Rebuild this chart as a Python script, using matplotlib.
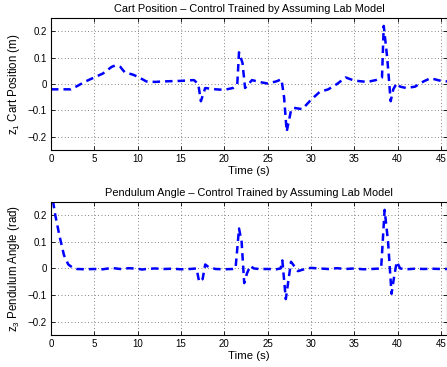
import matplotlib
matplotlib.use("Agg")
import matplotlib.pyplot as plt

plt.rcParams['font.family'] = ['Liberation Sans', 'DejaVu Sans']
plt.rcParams['mathtext.fontset'] = 'custom'
plt.rcParams['mathtext.rm'] = 'Liberation Sans'
plt.rcParams['mathtext.it'] = 'Liberation Sans'

# cart position z1 (m)
t_cart = [0, 1, 2.3, 3, 4, 5, 6, 7, 7.4, 8, 8.5, 9.5, 10, 11, 12, 13, 15, 16.5, 17.0,
          17.3, 17.8, 18.5, 19, 20, 21, 21.5, 21.7, 22.1, 22.4, 22.8, 23.2, 24, 25,
          26, 26.6, 26.9, 27.2, 27.7, 28, 29, 30, 31, 32, 33, 34, 35, 36.5, 37.5,
          38.2, 38.4, 38.8, 39.2, 39.5, 39.9, 40.3, 41, 42, 43, 43.8, 45, 45.7]
z_cart = [-0.02, -0.02, -0.02, -0.008, 0.01, 0.025, 0.04, 0.065, 0.07, 0.065, 0.045,
          0.035, 0.028, 0.01, 0.008, 0.01, 0.012, 0.015, 0.0,
          -0.065, -0.015, -0.018, -0.02, -0.022, -0.015, 0.0, 0.12, 0.08, -0.015, 0.0,
          0.015, 0.008, 0.002, 0.01, 0.018, -0.05, -0.18, -0.1, -0.09, -0.095, -0.06,
          -0.03, -0.02, 0.0, 0.025, 0.013, 0.008, 0.015,
          0.025, 0.22, 0.1, -0.065, -0.02, 0.003, -0.01, -0.015, -0.01, 0.01, 0.022,
          0.012, 0.01]

# pendulum angle z3 (rad)
t_pend = [0, 0.5, 1, 1.5, 2, 2.5, 3, 4, 5, 6, 7, 8, 9, 10, 10.5, 11, 12, 13, 14, 15,
          16, 16.8, 17.1, 17.5, 17.8, 18.2, 19, 20, 21, 21.3, 21.7, 22.0, 22.3, 22.6,
          23.0, 23.4, 24, 25, 26, 26.5, 26.7, 27.1, 27.7, 28.5, 29.5, 30, 31, 32, 33,
          34, 35, 36, 37, 38.1, 38.5, 38.9, 39.3, 39.6, 39.9, 40.3, 41, 42, 43, 44,
          45, 45.7]
z_pend = [0.3, 0.2, 0.12, 0.05, 0.015, 0.003, -0.002, -0.003, -0.002, -0.003, 0.002,
          -0.002, 0.001, -0.001, -0.004, -0.002, 0.0, -0.002, -0.001, -0.003,
          -0.002, 0.0, -0.05, -0.04, 0.015, 0.005, -0.002, -0.003, -0.002, 0.0, 0.15,
          0.1, -0.055, -0.02, 0.01, 0.0, -0.002, -0.002, -0.003, 0.0, 0.03, -0.115,
          0.025, -0.01, 0.0, 0.002, 0.0, -0.002, 0.001, -0.002, 0.0, -0.003, -0.002,
          0.0, 0.22, 0.1, -0.095, -0.03, 0.025, 0.0, -0.003, -0.001, -0.002, -0.001,
          -0.002, -0.002]

xticks = [0, 5, 10, 15, 20, 25, 30, 35, 40, 45]
yticks = [-0.2, -0.1, 0, 0.1, 0.2]
ytick_labels = ["\u22120.2", "\u22120.1", "0", "0.1", "0.2"]

fig = plt.figure(figsize=(4.47, 3.67), dpi=100)
ax1 = fig.add_axes([0.114, 0.591, 0.886, 0.360])
ax2 = fig.add_axes([0.114, 0.087, 0.886, 0.363])

panels = [
    (ax1, t_cart, z_cart, "Cart Position \u2013 Control Trained by Assuming Lab Model",
     r"z$_1$ Cart Position (m)"),
    (ax2, t_pend, z_pend, "Pendulum Angle \u2013 Control Trained by Assuming Lab Model",
     r"z$_3$ Pendulum Angle (rad)"),
]

for ax, t, z, title, ylabel in panels:
    ax.plot(t, z, color="blue", linestyle=(0, (3, 2)), linewidth=1.8)
    ax.set_xlim(0, 45.7)
    ax.set_ylim(-0.25, 0.25)
    ax.set_xticks(xticks)
    ax.set_yticks(yticks)
    ax.set_yticklabels(ytick_labels)
    ax.tick_params(direction="in", top=True, right=True, labelsize=7, length=3,
                   width=0.6, pad=3)
    ax.grid(True, linestyle=(0, (1, 3)), color="0.35", linewidth=0.6)
    for s in ax.spines.values():
        s.set_linewidth(0.8)
    ax.set_title(title, fontsize=7.9, pad=4)
    ax.set_xlabel("Time (s)", fontsize=8.2, labelpad=1)
    ax.set_ylabel(ylabel, fontsize=8.3, labelpad=4)

fig.savefig("out.png", dpi=100)
